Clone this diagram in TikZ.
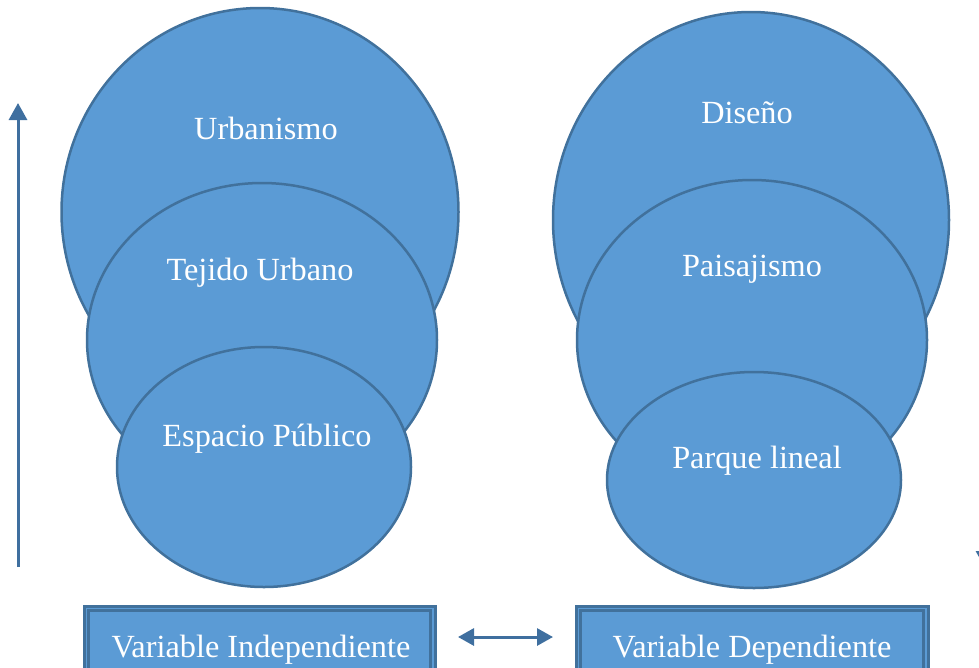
\documentclass[tikz,border=0pt]{standalone}
\usepackage{fontspec}
\setmainfont{Liberation Serif}
\usetikzlibrary{shapes.geometric,arrows.meta}
\definecolor{fillb}{HTML}{5B9BD5}
\definecolor{edgeb}{HTML}{41719C}
\definecolor{arrb}{HTML}{3F6F9F}
\begin{document}
\begin{tikzpicture}[x=1pt,y=-1pt,
  blob/.style={ellipse,draw=edgeb,line width=2.5pt,fill=fillb,inner sep=0pt},
  lbl/.style={text=white,font=\fontsize{32.3}{36}\selectfont,inner sep=0pt},
  vbox/.style={rectangle,draw=edgeb,line width=3pt,fill=fillb,inner sep=0pt},
  arr/.style={draw=arrb,line width=3pt,-{Triangle[length=17pt,width=18pt]}},
  darr/.style={draw=arrb,line width=3pt,{Triangle[length=16pt,width=17pt]}-{Triangle[length=16pt,width=17pt]}}]
\useasboundingbox (0,0) rectangle (979,667);
\clip (0,0) rectangle (979,667);
% left group
\node[blob,minimum width=397pt,minimum height=408pt] (u) at (260,212) {};
\node[blob,minimum width=350pt,minimum height=314pt] (t) at (262,340) {};
\node[blob,minimum width=294pt,minimum height=240pt] (e) at (264,467) {};
\node[lbl] (ut) at (266,128) {Urbanismo};
\node[lbl] (tt) at (260,273) {Tejido Urbano};
\node[lbl] (et) at (267,439) {Espacio Público};
% right group
\node[blob,minimum width=396pt,minimum height=416pt] (d) at (751,220) {};
\node[blob,minimum width=350pt,minimum height=320pt] (p) at (752,340) {};
\node[blob,minimum width=294pt,minimum height=216pt] (l) at (754,480) {};
\node[lbl] (dt) at (747,113) {Diseño};
\node[lbl] (pt) at (752,269) {Paisajismo};
\node[lbl] (lt) at (757,461) {Parque lineal};
% boxes
\node[vbox,minimum width=351pt,minimum height=80pt] (vi) at (259.5,646) {};
\draw[edgeb,line width=2.5pt] ([shift={(6pt,-6pt)}]vi.north west) rectangle ([shift={(-6pt,6pt)}]vi.south east);
\node[lbl] (vit) at (261,650) {Variable Independiente};
\node[vbox,minimum width=352pt,minimum height=80pt] (vd) at (752,646) {};
\draw[edgeb,line width=2.5pt] ([shift={(6pt,-6pt)}]vd.north west) rectangle ([shift={(-6pt,6pt)}]vd.south east);
\node[lbl] (vdt) at (752,650) {Variable Dependiente};
% arrows
\coordinate (a1) at (458,637);
\coordinate (a2) at (553,637);
\draw[darr] (a1) -- (a2);
\coordinate (up0) at (18,567);
\coordinate (up1) at (18,103);
\draw[arr] (up0) -- (up1);
\coordinate (dn0) at (985,100);
\coordinate (dn1) at (985,568);
\draw[arr] (dn0) -- (dn1);
\end{tikzpicture}
\end{document}
